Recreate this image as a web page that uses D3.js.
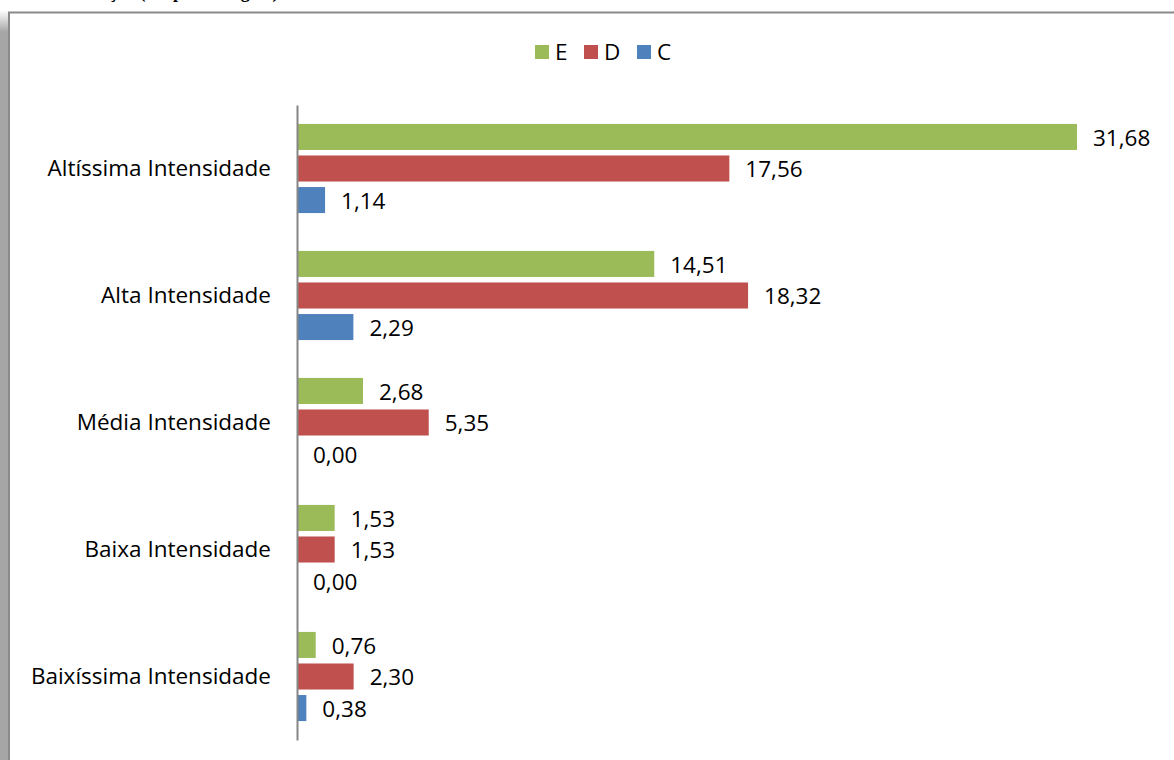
<!DOCTYPE html>
<html><head><meta charset="utf-8">
<script src="https://cdn.jsdelivr.net/npm/d3@7"></script>
<style>body{margin:0;background:#fff}svg{display:block}</style>
</head><body>
<script>
const categories = ["Altíssima Intensidade","Alta Intensidade","Média Intensidade","Baixa Intensidade","Baixíssima Intensidade"];
const seriesNames = ["E","D","C"];
const seriesColors = ["#9bbb59","#c0504d","#4f81bd"];
const valuesE = [31.68, 14.51, 2.68, 1.53, 0.76];
const valuesD = [17.56, 18.32, 5.35, 1.53, 2.30];
const valuesC = [1.14, 2.29, 0.00, 0.00, 0.38];
const seriesValues = [valuesE, valuesD, valuesC];

const W = 1174, H = 760;
const svg = d3.select("body").append("svg").attr("width", W).attr("height", H);
const font = "'Open Sans', sans-serif";
const fs = 22.5;

// frame / shadow
const defs = svg.append("defs");
const g1 = defs.append("linearGradient").attr("id","sh").attr("x1",0).attr("y1",0).attr("x2",0).attr("y2",1);
g1.append("stop").attr("offset","0").attr("stop-color","#fff");
g1.append("stop").attr("offset","1").attr("stop-color","#a6a6a6");
svg.append("rect").attr("x",0).attr("y",10).attr("width",8).attr("height",22).attr("fill","url(#sh)");
svg.append("rect").attr("x",0).attr("y",32).attr("width",8).attr("height",H-32).attr("fill","#a6a6a6");
svg.append("line").attr("x1",8).attr("x2",W).attr("y1",12.5).attr("y2",12.5).attr("stroke","#8a8a8a").attr("stroke-width",2);
svg.append("line").attr("x1",9).attr("x2",9).attr("y1",12).attr("y2",H).attr("stroke","#8a8a8a").attr("stroke-width",2);

// heading above the frame (only its lowest part is visible in the reference)
svg.append("text").attr("x",40).attr("y",-2).attr("font-family","'Liberation Serif', serif")
  .attr("font-weight","bold").attr("font-size",18).attr("fill","#000").text("Distribuição (em porcentagem)");

const x = d3.scaleLinear().domain([0, 31.68]).range([297, 1077]);
const y = d3.scaleBand().domain(categories).range([105, 740]).paddingInner(0).paddingOuter(0);
const inner = d3.scaleBand().domain(seriesNames).range([0, y.bandwidth()]).paddingInner(0.175).paddingOuter(0.6);

const groups = svg.append("g").selectAll("g").data(categories).join("g")
  .attr("transform", d => `translate(0,${y(d)})`);

seriesNames.forEach((s, si) => {
  groups.append("rect")
    .attr("x", x(0))
    .attr("y", inner(s))
    .attr("width", (d, i) => x(seriesValues[si][i]) - x(0))
    .attr("height", inner.bandwidth())
    .attr("fill", seriesColors[si]);
  groups.append("text")
    .attr("x", (d, i) => x(seriesValues[si][i]) + 16)
    .attr("y", inner(s) + inner.bandwidth() / 2 + 1)
    .attr("dy", "0.35em")
    .attr("font-family", font).attr("font-size", fs).attr("fill", "#000")
    .text((d, i) => seriesValues[si][i].toFixed(2).replace(".", ","));
});

// axis
const axis = d3.axisLeft(y).tickSize(0).tickPadding(26);
const ag = svg.append("g").attr("transform", `translate(${x(0)},0)`).call(axis);
ag.select(".domain").attr("stroke", "#868686").attr("stroke-width", 2);
ag.selectAll("text").attr("font-family", font).attr("font-size", fs).attr("fill", "#000");

// legend
const legX = [535, 584, 637];
seriesNames.forEach((s, i) => {
  svg.append("rect").attr("x", legX[i]).attr("y", 45).attr("width", 14).attr("height", 14).attr("fill", seriesColors[i]);
  svg.append("text").attr("x", legX[i] + 20).attr("y", 52).attr("dy", "0.35em")
    .attr("font-family", font).attr("font-size", fs).attr("fill", "#000").text(s);
});
</script>
</body></html>
